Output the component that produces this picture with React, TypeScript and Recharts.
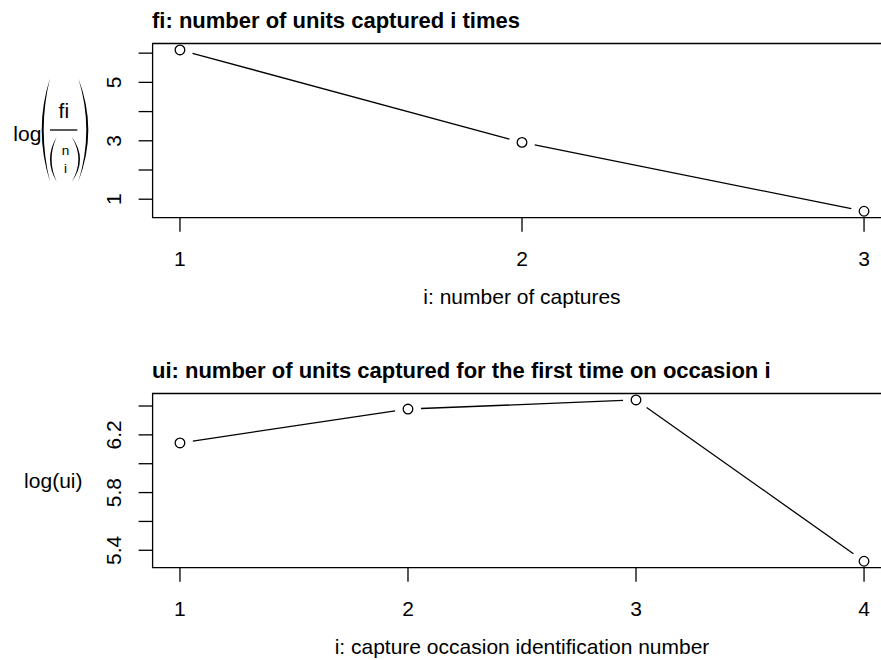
import React from 'react';
import { LineChart, Line, XAxis, YAxis, ReferenceArea } from 'recharts';

// top panel: fi
const CAPTURES = [1, 2, 3];
const LOG_FI = [6.11, 2.945, 0.588];
const TOP_Y_TICKS = [1, 2, 3, 4, 5, 6];
const TOP_Y_LABELS = [1, 3, 5];

// bottom panel: ui
const OCCASIONS = [1, 2, 3, 4];
const LOG_UI = [6.144, 6.379, 6.442, 5.324];
const BOTTOM_Y_TICKS = [5.4, 5.6, 5.8, 6.0, 6.2, 6.4];
const BOTTOM_Y_LABELS = [5.4, 5.8, 6.2];

const FONT = '"Liberation Sans", Arial, Helvetica, sans-serif';
const FS = 21;
const LW = 1.3;
const GAP = 13;

const CHART_W = 900;
const Y_W = 60;
const MARGIN_L = 152.6 - Y_W;
const MARGIN_R = CHART_W - 891.4;
const PLOT_TOP = 43.5;
const PLOT_H = 174.2;
const X_H = 30;

// R style axis range: data range plus 4% each side
const rRange = (vals: number[]): [number, number] => {
  const lo = Math.min(...vals);
  const hi = Math.max(...vals);
  const pad = (hi - lo) * 0.04;
  return [lo - pad, hi + pad];
};

// type="b": open circles, segments stop short of the points
const makeDot = (store: { cx: number; cy: number }[]) => (props: any) => {
  const { cx, cy, index } = props;
  store[index] = { cx, cy };
  let seg = null;
  const prev = index > 0 ? store[index - 1] : null;
  if (prev) {
    const dx = cx - prev.cx;
    const dy = cy - prev.cy;
    const len = Math.hypot(dx, dy);
    if (len > 2 * GAP) {
      const ux = dx / len;
      const uy = dy / len;
      seg = (
        <line
          x1={prev.cx + ux * GAP}
          y1={prev.cy + uy * GAP}
          x2={cx - ux * GAP}
          y2={cy - uy * GAP}
          stroke="#000"
          strokeWidth={LW}
        />
      );
    }
  }
  return (
    <g key={`dot-${index}`}>
      {seg}
      <circle cx={cx} cy={cy} r={4.8} fill="none" stroke="#000" strokeWidth={LW} />
    </g>
  );
};

const XTick = ({ x, y, payload }: any) => (
  <text x={x} y={y + 27} textAnchor="middle" dominantBaseline="central" fontSize={FS} fontFamily={FONT} fill="#000">
    {payload.value}
  </text>
);

const makeYTick = (labels: number[], digits: number) => ({ x, y, payload }: any) => {
  if (!labels.some(v => Math.abs(v - payload.value) < 1e-6)) return <g />;
  const tx = x - 25;
  return (
    <text
      x={tx}
      y={y}
      transform={`rotate(-90 ${tx} ${y})`}
      textAnchor="middle"
      dominantBaseline="central"
      fontSize={FS}
      fontFamily={FONT}
      fill="#000"
    >
      {payload.value.toFixed(digits)}
    </text>
  );
};

const Paren = ({ x, top, bottom, out, thick }: { x: number; top: number; bottom: number; out: number; thick: number }) => {
  // out: horizontal bulge of the outer edge (negative = left)
  const c1 = x + 2 * out;
  const c2 = x + 2 * (out - Math.sign(out) * thick);
  return <path d={`M${x} ${top} Q${c1} ${(top + bottom) / 2} ${x} ${bottom} Q${c2} ${(top + bottom) / 2} ${x} ${top} Z`} fill="#000" />;
};

const FiLabel = () => (
  <g fontFamily={FONT} fill="#000">
    <text x={13.3} y={141} fontSize={FS}>log</text>
    <Paren x={50} top={78.3} bottom={181.7} out={-8.3} thick={2} />
    <Paren x={78.3} top={78.3} bottom={181.7} out={10} thick={2} />
    <text x={63.8} y={118} fontSize={FS} textAnchor="middle">fi</text>
    <line x1={50} y1={130} x2={77.3} y2={130} stroke="#000" strokeWidth={LW} />
    <Paren x={56.7} top={136.7} bottom={181.7} out={-6.7} thick={1.6} />
    <Paren x={71.7} top={136.7} bottom={181.7} out={8.3} thick={1.6} />
    <text x={65.5} y={155} fontSize={13.5} textAnchor="middle">n</text>
    <text x={65.5} y={173} fontSize={13.5} textAnchor="middle">i</text>
  </g>
);

const Panel = ({
  xs,
  ys,
  yTicks,
  yLabels,
  digits,
  height,
  title,
  xLabel,
  yLabel,
}: {
  xs: number[];
  ys: number[];
  yTicks: number[];
  yLabels: number[];
  digits: number;
  height: number;
  title: string;
  xLabel: string;
  yLabel: React.ReactNode;
}) => {
  const data = xs.map((x, i) => ({ x, y: ys[i] }));
  const xDom = rRange(xs);
  const yDom = rRange(ys);
  const store: { cx: number; cy: number }[] = [];
  const plotBottom = PLOT_TOP + PLOT_H;
  return (
    <LineChart
      width={CHART_W}
      height={height}
      data={data}
      margin={{ top: PLOT_TOP, right: MARGIN_R, left: MARGIN_L, bottom: height - PLOT_TOP - PLOT_H - X_H }}
    >
      <XAxis
        dataKey="x"
        type="number"
        domain={xDom}
        allowDataOverflow
        ticks={xs}
        interval={0}
        height={X_H}
        tickSize={14}
        tickMargin={0}
        axisLine={false}
        tickLine={{ stroke: '#000', strokeWidth: LW }}
        tick={<XTick />}
      />
      <YAxis
        type="number"
        domain={yDom}
        allowDataOverflow
        ticks={yTicks}
        interval={0}
        width={Y_W}
        tickSize={14}
        tickMargin={0}
        axisLine={false}
        tickLine={{ stroke: '#000', strokeWidth: LW }}
        tick={makeYTick(yLabels, digits)}
      />
      <Line
        dataKey="y"
        stroke="none"
        strokeWidth={0}
        isAnimationActive={false}
        dot={makeDot(store)}
        activeDot={false}
      />
      <ReferenceArea
        x1={xDom[0]}
        x2={xDom[1]}
        y1={yDom[0]}
        y2={yDom[1]}
        fill="none"
        fillOpacity={0}
        stroke="#000"
        strokeWidth={LW}
      />
      <text x={152} y={28} fontSize={22} fontWeight="bold" fontFamily={FONT} fill="#000">
        {title}
      </text>
      <text x={522} y={plotBottom + 79 + 7} fontSize={FS} textAnchor="middle" fontFamily={FONT} fill="#000">
        {xLabel}
      </text>
      {yLabel}
    </LineChart>
  );
};

export default function App() {
  return (
    <div
      style={{
        position: 'absolute',
        left: 0,
        top: 0,
        width: 881,
        height: 660,
        overflow: 'hidden',
        background: '#fff',
      }}
    >
      <div style={{ position: 'absolute', left: 0, top: 0 }}>
        <Panel
          xs={CAPTURES}
          ys={LOG_FI}
          yTicks={TOP_Y_TICKS}
          yLabels={TOP_Y_LABELS}
          digits={0}
          height={330}
          title="fi: number of units captured i times"
          xLabel="i: number of captures"
          yLabel={<FiLabel />}
        />
      </div>
      <div style={{ position: 'absolute', left: 0, top: 350 }}>
        <Panel
          xs={OCCASIONS}
          ys={LOG_UI}
          yTicks={BOTTOM_Y_TICKS}
          yLabels={BOTTOM_Y_LABELS}
          digits={1}
          height={310}
          title="ui: number of units captured for the first time on occasion i"
          xLabel="i: capture occasion identification number"
          yLabel={
            <text x={53.3} y={137.5} fontSize={FS} textAnchor="middle" fontFamily={FONT} fill="#000">
              log(ui)
            </text>
          }
        />
      </div>
    </div>
  );
}
